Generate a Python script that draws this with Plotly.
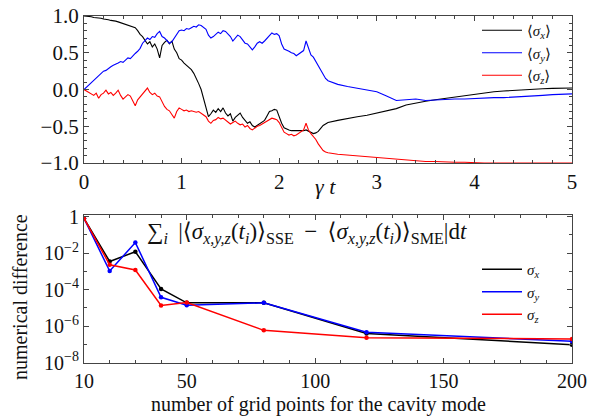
import plotly.graph_objects as go

# ---------------- top panel data: trajectories vs gamma*t ----------------
t = [0.000, 0.025, 0.050, 0.075, 0.100, 0.125, 0.150, 0.175, 0.200, 0.225,
     0.250, 0.275, 0.300, 0.325, 0.350, 0.375, 0.400, 0.425, 0.450, 0.475,
     0.500, 0.525, 0.550, 0.575, 0.600, 0.625, 0.650, 0.675, 0.700, 0.725,
     0.750, 0.775, 0.800, 0.825, 0.850, 0.875, 0.900, 0.925, 0.950, 0.975,
     1.000, 1.025, 1.050, 1.075, 1.100, 1.125, 1.150, 1.175, 1.200, 1.225,
     1.250, 1.275, 1.300, 1.325, 1.350, 1.375, 1.400, 1.425, 1.450, 1.475,
     1.500, 1.525, 1.550, 1.575, 1.600, 1.625, 1.650, 1.675, 1.700, 1.725,
     1.750, 1.775, 1.800, 1.825, 1.850, 1.875, 1.900, 1.925, 1.950, 1.975,
     2.000, 2.025, 2.050, 2.075, 2.100, 2.125, 2.150, 2.175, 2.200, 2.225,
     2.250, 2.275, 2.300, 2.325, 2.350, 2.375, 2.400, 2.425, 2.450, 2.475,
     2.500, 2.6, 2.7, 2.8, 2.9, 3.0, 3.1, 3.2, 3.3, 3.4, 3.5, 3.6, 3.7, 3.8,
     3.9, 4.0, 4.1, 4.2, 4.3, 4.4, 4.5, 4.6, 4.7, 4.8, 4.9, 5.0]

sigma_x = [1.00, 1.00, 0.99, 0.99, 0.98, 0.98, 0.97, 0.97, 0.96, 0.96,
           0.95, 0.94, 0.94, 0.93, 0.92, 0.91, 0.90, 0.89, 0.88, 0.86,
           0.85, 0.84, 0.80, 0.75, 0.72, 0.66, 0.62, 0.65, 0.58, 0.62,
           0.55, 0.43, 0.60, 0.64, 0.67, 0.62, 0.66, 0.55, 0.50, 0.42,
           0.40, 0.36, 0.33, 0.30, 0.27, 0.22, 0.16, 0.08, 0.00, -0.12,
           -0.25, -0.37, -0.33, -0.28, -0.31, -0.26, -0.30, -0.25, -0.32, -0.36,
           -0.33, -0.43, -0.38, -0.35, -0.32, -0.38, -0.42, -0.46, -0.44, -0.49,
           -0.51, -0.49, -0.47, -0.45, -0.42, -0.36, -0.30, -0.29, -0.27, -0.28,
           -0.38, -0.46, -0.52, -0.54, -0.55, -0.56, -0.56, -0.57, -0.57, -0.57,
           -0.56, -0.55, -0.57, -0.59, -0.60, -0.59, -0.57, -0.53, -0.49, -0.47,
           -0.45, -0.42, -0.39, -0.37, -0.35, -0.32, -0.29, -0.26, -0.21, -0.18,
           -0.16, -0.14, -0.12, -0.10, -0.08, -0.06, -0.04, -0.03, -0.02, -0.01,
           0.00, 0.01, 0.01, 0.015, 0.02, 0.02]

sigma_y = [0.00, 0.03, 0.06, 0.09, 0.12, 0.15, 0.19, 0.22, 0.25, 0.26,
           0.29, 0.31, 0.33, 0.34, 0.36, 0.38, 0.37, 0.40, 0.43, 0.42,
           0.46, 0.49, 0.52, 0.56, 0.63, 0.66, 0.70, 0.68, 0.72, 0.71,
           0.76, 0.79, 0.72, 0.70, 0.66, 0.63, 0.65, 0.70, 0.74, 0.80,
           0.81, 0.80, 0.83, 0.82, 0.84, 0.86, 0.85, 0.88, 0.87, 0.85,
           0.82, 0.74, 0.70, 0.72, 0.75, 0.78, 0.76, 0.80, 0.79, 0.75,
           0.72, 0.66, 0.70, 0.74, 0.72, 0.68, 0.63, 0.62, 0.58, 0.54,
           0.58, 0.63, 0.65, 0.63, 0.66, 0.70, 0.74, 0.77, 0.75, 0.76,
           0.73, 0.62, 0.55, 0.54, 0.52, 0.50, 0.49, 0.46, 0.48, 0.51,
           0.53, 0.66, 0.55, 0.47, 0.44, 0.38, 0.32, 0.26, 0.20, 0.15,
           0.12, 0.07, 0.04, 0.02, 0.00, -0.03, -0.09, -0.15, -0.14, -0.13,
           -0.15, -0.14, -0.14, -0.13, -0.13, -0.12, -0.12, -0.11, -0.11, -0.10,
           -0.10, -0.09, -0.08, -0.07, -0.07, -0.06]

sigma_z = [0.00, -0.02, -0.04, -0.06, -0.08, -0.05, -0.12, -0.07, -0.05, -0.01,
           -0.06, -0.04, -0.08, -0.05, -0.01, -0.08, -0.13, -0.10, -0.07, -0.09,
           -0.15, -0.22, -0.14, -0.10, -0.06, -0.02, 0.02, -0.04, -0.07, -0.05,
           -0.09, -0.10, -0.17, -0.23, -0.27, -0.29, -0.34, -0.39, -0.30, -0.25,
           -0.27, -0.29, -0.28, -0.30, -0.29, -0.30, -0.31, -0.30, -0.32, -0.34,
           -0.37, -0.43, -0.46, -0.42, -0.41, -0.38, -0.40, -0.39, -0.42, -0.44,
           -0.47, -0.45, -0.43, -0.46, -0.48, -0.47, -0.51, -0.49, -0.53, -0.55,
           -0.52, -0.50, -0.49, -0.47, -0.45, -0.42, -0.40, -0.39, -0.40, -0.41,
           -0.45, -0.52, -0.58, -0.60, -0.62, -0.61, -0.63, -0.62, -0.60, -0.58,
           -0.55, -0.46, -0.55, -0.60, -0.64, -0.68, -0.74, -0.79, -0.83, -0.85,
           -0.86, -0.88, -0.89, -0.90, -0.91, -0.92, -0.93, -0.95, -0.96, -0.97,
           -0.98, -0.98, -0.99, -0.99, -0.99, -1.00, -1.00, -1.00, -1.00, -1.00,
           -1.00, -1.00, -1.00, -1.00, -1.00, -1.00]

# ---------------- bottom panel data: numerical difference ----------------
grid_points = [10, 20, 30, 40, 50, 80, 120, 200]
diff_x = [0.8, 3.5e-3, 1.2e-2, 1.1e-4, 1.9e-5, 1.9e-5, 4.0e-7, 9.7e-8]
diff_y = [0.8, 1.05e-3, 3.8e-2, 3.8e-5, 1.4e-5, 1.9e-5, 4.7e-7, 1.5e-7]
diff_z = [0.8, 2.3e-3, 1.2e-3, 1.35e-5, 2.0e-5, 5.9e-7, 2.3e-7, 2.0e-7]

top_x_ticks = [0, 1, 2, 3, 4, 5]
top_y_ticks = [-1.0, -0.5, 0.0, 0.5, 1.0]
top_y_labels = ["\u22121.0", "\u22120.5", "0.0", "0.5", "1.0"]
bot_x_ticks = [10, 50, 100, 150, 200]
bot_y_ticks = [1, 1e-2, 1e-4, 1e-6, 1e-8]
bot_y_labels = ["1", "10<sup>\u22122</sup>", "10<sup>\u22124</sup>",
                "10<sup>\u22126</sup>", "10<sup>\u22128</sup>"]

COLORS = ["#000000", "#0000ff", "#ff0000"]
FONT = "Times New Roman, Liberation Serif, DejaVu Serif, serif"

fig = go.Figure()

top_names = ["\u27e8<i>\u03c3</i><sub><i>x</i></sub>\u27e9",
             "\u27e8<i>\u03c3</i><sub><i>y</i></sub>\u27e9",
             "\u27e8<i>\u03c3</i><sub><i>z</i></sub>\u27e9"]
for series, name, col in zip([sigma_x, sigma_y, sigma_z], top_names, COLORS):
    fig.add_trace(go.Scatter(x=t, y=series, mode="lines", name=name,
                             line=dict(color=col, width=1.1),
                             xaxis="x", yaxis="y", legend="legend"))

bot_names = ["<i>\u03c3</i><sub><i>x</i></sub>",
             "<i>\u03c3</i><sub><i>y</i></sub>",
             "<i>\u03c3</i><sub><i>z</i></sub>"]
for series, name, col in zip([diff_x, diff_y, diff_z], bot_names, COLORS):
    fig.add_trace(go.Scatter(x=grid_points, y=series, mode="lines", name=name,
                             line=dict(color=col, width=1.5),
                             xaxis="x2", yaxis="y2", legend="legend2"))
    fig.add_trace(go.Scatter(x=grid_points, y=series, mode="markers",
                             marker=dict(color=col, size=4.5),
                             showlegend=False, xaxis="x2", yaxis="y2"))

axis_common = dict(showline=True, linecolor="#444", linewidth=1.2,
                   mirror="allticks", ticks="inside", ticklen=5,
                   tickcolor="#444", showgrid=False, zeroline=False,
                   automargin=False,
                   tickfont=dict(family=FONT, size=21, color="#111"))

W, H = 600, 416
fig.update_layout(
    width=W, height=H, margin=dict(l=0, r=0, t=0, b=0),
    paper_bgcolor="white", plot_bgcolor="white",
    font=dict(family=FONT, color="#111"),
    xaxis=dict(axis_common, domain=[84 / W, 572 / W], range=[0, 5],
               tickvals=top_x_ticks, anchor="y",
               minor=dict(ticks="inside", dtick=0.2, ticklen=3, tickcolor="#444")),
    yaxis=dict(axis_common, domain=[1 - 163 / H, 1 - 16 / H], range=[-1, 1],
               tickvals=top_y_ticks, ticktext=top_y_labels, anchor="x",
               minor=dict(ticks="inside", dtick=0.1, ticklen=3, tickcolor="#444")),
    xaxis2=dict(axis_common, domain=[84 / W, 572 / W], range=[10, 200],
                tickvals=bot_x_ticks, anchor="y2",
                tickfont=dict(family=FONT, size=20, color="#111"),
                minor=dict(ticks="inside", dtick=10, tick0=0, ticklen=3, tickcolor="#444")),
    yaxis2=dict(axis_common, domain=[1 - 362.7 / H, 1 - 215 / H], type="log",
                range=[-8, 0.09], tickvals=bot_y_ticks, ticktext=bot_y_labels,
                anchor="x2",
                tickfont=dict(family=FONT, size=20, color="#111"),
                minor=dict(ticks="inside", tickvals=[1e-1, 1e-3, 1e-5, 1e-7],
                           ticklen=3, tickcolor="#444")),
    legend=dict(x=477 / W, y=1 - 14 / H, xanchor="left", yanchor="top",
                bgcolor="rgba(0,0,0,0)", font=dict(family=FONT, size=15, color="#111"),
                tracegroupgap=0, itemwidth=40),
    legend2=dict(x=477 / W, y=1 - 253 / H, xanchor="left", yanchor="top",
                 bgcolor="rgba(0,0,0,0)", font=dict(family=FONT, size=15, color="#111"),
                 tracegroupgap=0, itemwidth=40),
    annotations=[
        dict(text="<i>\u03b3 t</i>", x=325 / W, y=1 - 186 / H, xref="paper", yref="paper",
             xanchor="center", yanchor="middle",
             showarrow=False, font=dict(family=FONT, size=22, color="#111")),
        dict(text="\u2211<sub><i>i</i></sub>\u2009 |\u27e8<i>\u03c3</i><sub><i>x,y,z</i></sub>(<i>t</i><sub><i>i</i></sub>)\u27e9<sub>SSE</sub>"
                  "\u2009 \u2212 \u2009\u27e8<i>\u03c3</i><sub><i>x,y,z</i></sub>(<i>t</i><sub><i>i</i></sub>)\u27e9<sub>SME</sub>|d<i>t</i>",
             x=145 / W, y=1 - 233 / H, xref="paper", yref="paper",
             xanchor="left", yanchor="middle",
             showarrow=False, font=dict(family=FONT, size=23, color="#111")),
        dict(text="numerical difference", textangle=-90,
             x=20 / W, y=1 - 297 / H, xref="paper", yref="paper",
             xanchor="center", yanchor="middle",
             showarrow=False, font=dict(family=FONT, size=20, color="#111")),
        dict(text="number of grid points for the cavity mode",
             x=318 / W, y=1 - 404 / H, xref="paper", yref="paper",
             xanchor="center", yanchor="middle",
             showarrow=False, font=dict(family=FONT, size=20, color="#111")),
    ],
)

fig.write_html("out.html", post_script="document.body.style.margin='0';",
               config={"displayModeBar": False})
